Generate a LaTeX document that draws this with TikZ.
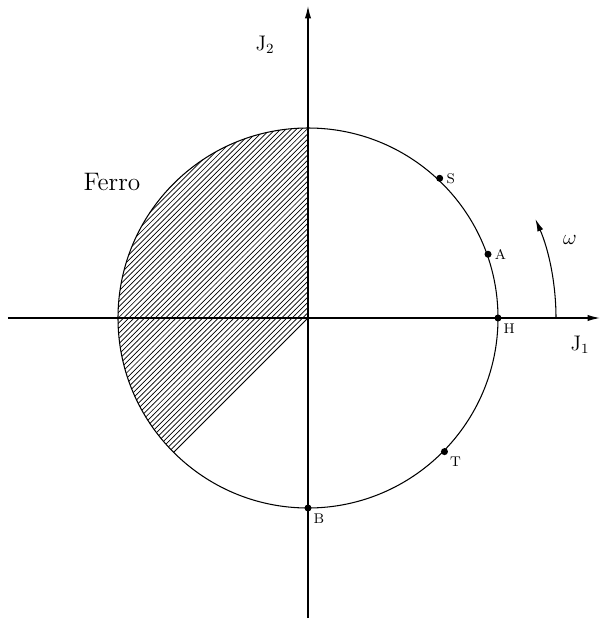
\documentclass[tikz,border=0pt]{standalone}
\usepackage{amsmath}
\usepackage{tikz}
\usetikzlibrary{arrows.meta, patterns, positioning}
\tikzset{
  dot/.style={circle, fill, inner sep=0pt, minimum size=4pt},
  ptlabel/.style={font=\footnotesize, inner sep=1.5pt},
  axis/.style={-{Latex[length=7pt, width=3.5pt]}, line width=0.6pt},
}

\begin{document}
\begin{tikzpicture}[x=0.02cm, y=0.02cm]
  \useasboundingbox (-308,-308) rectangle (294,318);

  \coordinate (O)   at (0,0);
  \coordinate (xl)  at (-300,0);
  \coordinate (xr)  at (292,0);
  \coordinate (yb)  at (0,-300);
  \coordinate (yt)  at (0,312);
  \coordinate (cut) at (225:190);

  % ferro sector
  \fill[pattern=north east lines] (O) -- (0,190) arc[start angle=90, end angle=225, radius=190] -- cycle;
  \draw[line width=0.6pt] (O) -- (cut);

  % axes
  \draw[axis] (xl) -- (xr);
  \draw[axis] (yb) -- (yt);
  \node (J1) at (272,-27) {\large $\mathrm{J}_1$};
  \node (J2) at (-43,273) {\large $\mathrm{J}_2$};

  \draw[line width=0.6pt] (O) circle[radius=190];

  \node (ferro) at (-196,136) {\Large Ferro};

  % points on the circle
  \node[dot, label={[ptlabel]right:S}]        (S) at (46.7:192) {};
  \node[dot, label={[ptlabel]right:A}]        (A) at (19.5:191) {};
  \node[dot, label={[ptlabel]below right:H}]  (H) at (0:190)    {};
  \node[dot, label={[ptlabel]below right:T}]  (T) at (-44.4:191) {};
  \node[dot, label={[ptlabel]below right:B}]  (B) at (-90:190)  {};

  % rotation
  \draw[-{Latex[length=7pt, width=3.5pt]}, line width=0.6pt] (248,0) arc[start angle=0, end angle=23.5, radius=248];
  \node (omega) at (262,78) {\large $\omega$};
\end{tikzpicture}
\end{document}
